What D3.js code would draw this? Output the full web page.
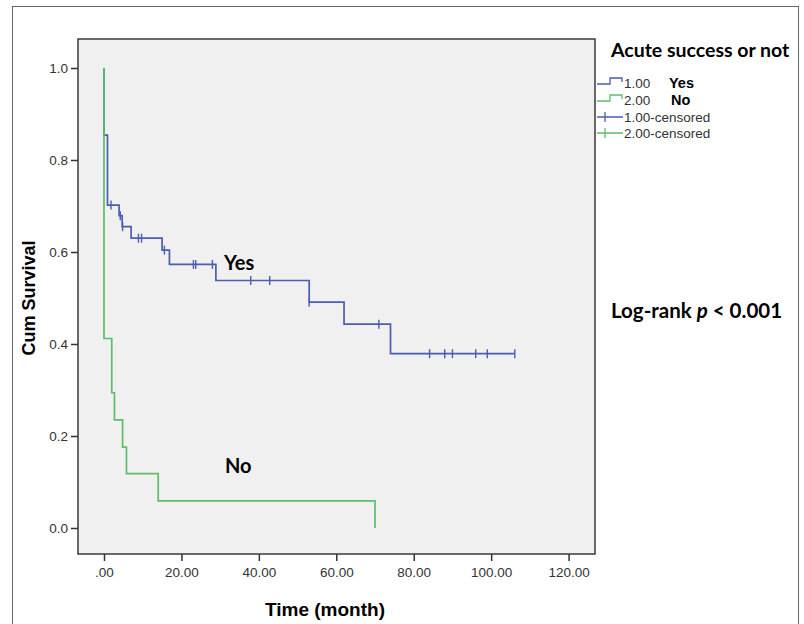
<!DOCTYPE html>
<html>
<head>
<meta charset="utf-8">
<script src="https://cdn.jsdelivr.net/npm/d3@7"></script>
<style>
  body { margin: 0; background: #fff; }
  svg { display: block; }
</style>
</head>
<body>
<div id="chart"></div>
<script>
// Data
const yTicks = [0, 0.2, 0.4, 0.6, 0.8, 1.0];
const xTicks = [0, 20, 40, 60, 80, 100, 120];

// group 1.00 (Yes): event times and survival after each event
const yesTime = [0, 0.9, 3.9, 4.7, 7.0, 15.0, 16.9, 28.9, 53.0, 62.0, 74.0];
const yesSurv = [0.854, 0.702, 0.679, 0.655, 0.630, 0.604, 0.573, 0.538, 0.491, 0.443, 0.379];
const yesEnd = 106.1;
const yesCensor = [1.8, 4.2, 4.8, 8.9, 9.7, 15.6, 23.1, 23.7, 28.0, 37.9, 42.8, 53.0, 71.0, 84.1, 88.0, 90.0, 96.0, 99.0, 106.1];

// group 2.00 (No)
const noTime = [0, 2.0, 2.7, 4.8, 5.8, 14.0, 70.0];
const noSurv = [0.412, 0.294, 0.235, 0.176, 0.118, 0.059, 0.0];

const legendLabels = ["1.00", "2.00", "1.00-censored", "2.00-censored"];
const legendTags = ["Yes", "No", "", ""];

// Set Dimensions
const width = 804, height = 624;
const plot = { left: 78, top: 39, right: 595, bottom: 554 };
const blue = "#4a5db0";
const green = "#5cbd6b";

var svg = d3.select("#chart")
  .append("svg")
  .attr("width", width)
  .attr("height", height);

// outer frame
svg.append("rect")
  .attr("x", 12.5).attr("y", 6.5)
  .attr("width", 786).attr("height", 640)
  .attr("fill", "none")
  .attr("stroke", "#666")
  .attr("stroke-width", 1);

// plot background
svg.append("rect")
  .attr("x", plot.left).attr("y", plot.top)
  .attr("width", plot.right - plot.left)
  .attr("height", plot.bottom - plot.top)
  .attr("fill", "#f0f0f0");

// Scales
var xScale = d3.scaleLinear().domain([0, 120]).range([104, 568.6]);
var yScale = d3.scaleLinear().domain([0, 1]).range([528, 68]);

// X Axis
var xAxis = svg.append("g")
  .attr("transform", "translate(0," + plot.bottom + ")")
  .call(d3.axisBottom(xScale)
    .tickValues(xTicks)
    .tickSize(7)
    .tickPadding(6)
    .tickFormat(function(d) { return d === 0 ? ".00" : d3.format(".2f")(d); }));

// Y Axis
var yAxis = svg.append("g")
  .attr("transform", "translate(" + plot.left + ",0)")
  .call(d3.axisLeft(yScale)
    .tickValues(yTicks)
    .tickSize(7)
    .tickPadding(3)
    .tickFormat(d3.format(".1f")));

[xAxis, yAxis].forEach(function(a) {
  a.select(".domain").remove();
  a.selectAll(".tick line").attr("stroke", "#333").attr("stroke-width", 1.5);
  a.selectAll(".tick text")
    .attr("fill", "#333")
    .style("font-family", "'Liberation Sans', Arial, sans-serif")
    .style("font-size", "13.5px");
});

// plot frame
svg.append("rect")
  .attr("x", plot.left).attr("y", plot.top)
  .attr("width", plot.right - plot.left)
  .attr("height", plot.bottom - plot.top)
  .attr("fill", "none")
  .attr("stroke", "#3a3a3a")
  .attr("stroke-width", 1.5);

// step path builder
function stepPath(times, surv, end) {
  var d = "M" + xScale(0) + "," + yScale(1);
  times.forEach(function(t, i) {
    d += "H" + xScale(t) + "V" + yScale(surv[i]);
  });
  if (end != null) d += "H" + xScale(end);
  return d;
}
function survAt(times, surv, t) {
  var s = 1;
  times.forEach(function(tt, i) { if (tt <= t) s = surv[i]; });
  return s;
}

// Yes curve
svg.append("path")
  .attr("d", stepPath(yesTime, yesSurv, yesEnd))
  .attr("fill", "none")
  .attr("stroke", blue)
  .attr("stroke-width", 1.7);

svg.selectAll(".censor")
  .data(yesCensor)
  .enter()
  .append("line")
    .attr("class", "censor")
    .attr("x1", function(d) { return xScale(d); })
    .attr("x2", function(d) { return xScale(d); })
    .attr("y1", function(d) { return yScale(survAt(yesTime, yesSurv, d)) - 4.5; })
    .attr("y2", function(d) { return yScale(survAt(yesTime, yesSurv, d)) + 4.5; })
    .attr("stroke", blue)
    .attr("stroke-width", 1.4);

// No curve
svg.append("path")
  .attr("d", stepPath(noTime, noSurv, null))
  .attr("fill", "none")
  .attr("stroke", green)
  .attr("stroke-width", 1.7);

// Axis titles
svg.append("text")
  .attr("x", 325)
  .attr("y", 616)
  .style("text-anchor", "middle")
  .style("font-family", "'Liberation Sans', Arial, sans-serif")
  .style("font-weight", "bold")
  .style("font-size", "19px")
  .text("Time (month)");

svg.append("text")
  .attr("transform", "translate(35,298) rotate(-90)")
  .style("text-anchor", "middle")
  .style("font-family", "'Liberation Sans', Arial, sans-serif")
  .style("font-weight", "bold")
  .style("font-size", "18px")
  .text("Cum Survival");

// curve labels
svg.append("text")
  .attr("x", 224).attr("y", 270)
  .style("font-family", "Lato, 'Open Sans', sans-serif")
  .style("font-weight", "bold")
  .style("font-size", "20px")
  .text("Yes");

svg.append("text")
  .attr("x", 225).attr("y", 473)
  .style("font-family", "Lato, 'Open Sans', sans-serif")
  .style("font-weight", "bold")
  .style("font-size", "20px")
  .text("No");

// Log-rank
var lr = svg.append("text")
  .attr("x", 611).attr("y", 318)
  .style("font-family", "Lato, 'Open Sans', sans-serif")
  .style("font-weight", "bold")
  .style("font-size", "20.5px");
lr.append("tspan").text("Log-rank ");
lr.append("tspan").style("font-style", "italic").text("p");
lr.append("tspan").text(" < 0.001");

// Legend
svg.append("text")
  .attr("x", 611).attr("y", 57)
  .style("font-family", "Lato, 'Open Sans', sans-serif")
  .style("font-weight", "bold")
  .style("font-size", "19.5px")
  .text("Acute success or not");

var rowY = [83, 100, 117, 133];
var legendColors = [blue, green, blue, green];

var legend = svg.selectAll(".legend")
  .data(legendLabels)
  .enter()
  .append("g")
  .attr("class", "legend")
  .attr("transform", function(d, i) { return "translate(0," + rowY[i] + ")"; });

legend.append("path")
  .attr("d", function(d, i) {
    if (i < 2) return "M597,1H610V-5H622V-1";
    return "M597,0H623M605,-5V5";
  })
  .attr("fill", "none")
  .attr("stroke", function(d, i) { return legendColors[i]; })
  .attr("stroke-width", 1.3);

legend.append("text")
  .attr("x", 624).attr("y", 5)
  .attr("fill", "#333")
  .style("font-family", "'Liberation Sans', Arial, sans-serif")
  .style("font-size", "13.5px")
  .text(function(d) { return d; });

legend.append("text")
  .attr("x", function(d, i) { return i === 0 ? 669 : 671; })
  .attr("y", 5)
  .style("font-family", "'Liberation Sans', Arial, sans-serif")
  .style("font-weight", "bold")
  .style("font-size", "14.5px")
  .text(function(d, i) { return legendTags[i]; });
</script>
</body>
</html>
